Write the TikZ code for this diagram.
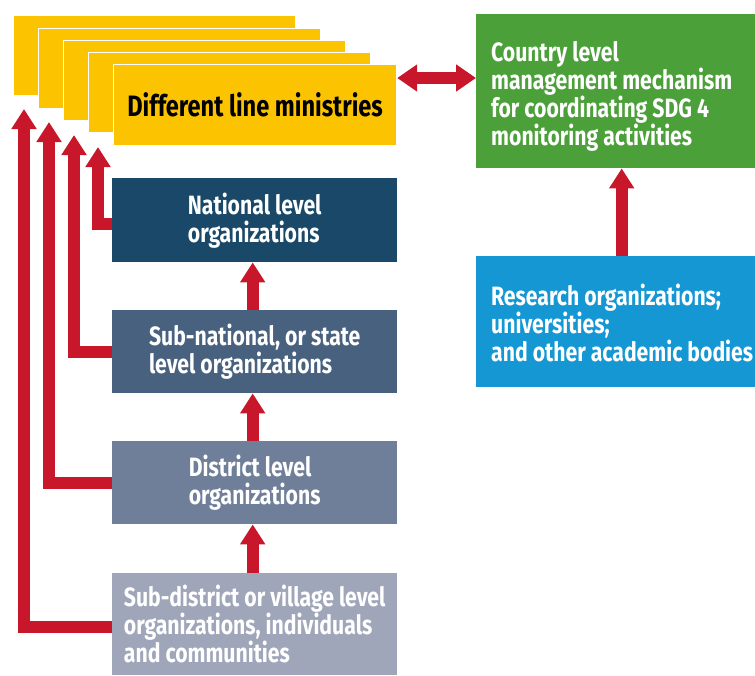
\documentclass[tikz,border=0pt]{standalone}
\usepackage{fontspec}
\setmainfont{Fira Sans}[FakeStretch=0.8]
\usetikzlibrary{arrows.meta}
\definecolor{myyellow}{RGB}{252,195,0}
\definecolor{natc}{RGB}{25,72,104}
\definecolor{subc}{RGB}{72,97,127}
\definecolor{distc}{RGB}{111,127,154}
\definecolor{subdc}{RGB}{160,166,186}
\definecolor{greenc}{RGB}{76,160,58}
\definecolor{bluec}{RGB}{21,151,212}
\definecolor{redc}{RGB}{200,22,42}
\begin{document}
\begin{tikzpicture}[x=1pt,y=-1pt,
  ybox/.style={fill=myyellow, draw=white, line width=1.2pt, minimum width=282pt, minimum height=80pt, anchor=north west, inner sep=0pt},
  obox/.style={minimum width=285pt, anchor=north west, text=white, font=\fontsize{26.5}{28}\selectfont\bfseries, align=left, inner sep=0pt},
  rbox/.style={minimum width=279pt, anchor=north west, inner sep=0pt},
  rtext/.style={anchor=west, text=white, font=\fontsize{26.5}{28}\selectfont\bfseries, align=left, inner sep=0pt},
  redarrow/.style={draw=redc, line width=12pt, -{Triangle[width=24pt,length=20pt]}},
  dblarrow/.style={draw=redc, line width=12pt, {Triangle[width=26pt,length=20pt]}-{Triangle[width=26pt,length=20pt]}}
]
\useasboundingbox (0,0) rectangle (755,675);
% stacked ministries
\node[ybox] (y1) at (13,15) {};
\node[ybox] (y2) at (38,28) {};
\node[ybox] (y3) at (63,40) {};
\node[ybox] (y4) at (88,52) {};
\node[ybox, minimum width=283pt, minimum height=81pt, font=\fontsize{29.5}{30}\selectfont\bfseries] (y5) at (113,64) {Different line ministries};
% level boxes
\node[obox, fill=natc, minimum height=84pt] (nat) at (112,178) {National level\\organizations};
\node[obox, fill=subc, minimum height=83pt] (sub) at (112,310) {Sub-national, or state\\level organizations};
\node[obox, fill=distc, minimum height=83pt] (dist) at (112,441) {District level\\organizations};
\node[obox, fill=subdc, minimum height=102pt] (subd) at (112,573) {Sub-district or village level\\organizations, individuals\\and communities};
% right boxes
\node[rbox, fill=greenc, minimum height=154pt] (cm) at (476,14) {};
\node[rtext] (cmt) at ([xshift=15pt,yshift=-5pt]cm.west) {Country level\\management mechanism\\for coordinating SDG 4\\monitoring activities};
\node[rbox, fill=bluec, minimum height=131pt] (res) at (476,256) {};
\node[rtext] (rest) at ([xshift=15pt,yshift=-1pt]res.west) {Research organizations;\\universities;\\and other academic bodies};
% tips of the elbow arrows
\coordinate (t1) at (24,109);
\coordinate (t2) at (49,122);
\coordinate (t3) at (74,135);
\coordinate (t4) at (98,147);
\coordinate (da) at (0,78);
% arrows
\draw[redarrow] ([yshift=-3pt]subd.west) -| (t1);
\draw[redarrow] (dist.west) -| (t2);
\draw[redarrow] (sub.west) -| (t3);
\draw[redarrow] ([yshift=-4pt]nat.west) -| (t4);
\draw[redarrow] ([xshift=-2pt]subd.north) -- ([xshift=-2pt]dist.south);
\draw[redarrow] ([xshift=-2pt]dist.north) -- ([xshift=-2pt]sub.south);
\draw[redarrow] ([xshift=-2pt]sub.north) -- ([xshift=-2pt]nat.south);
\draw[redarrow] ([xshift=6pt]res.north) -- ([xshift=6pt]cm.south);
\draw[dblarrow] (y5.east |- da) -- (cm.west |- da);
\end{tikzpicture}
\end{document}
